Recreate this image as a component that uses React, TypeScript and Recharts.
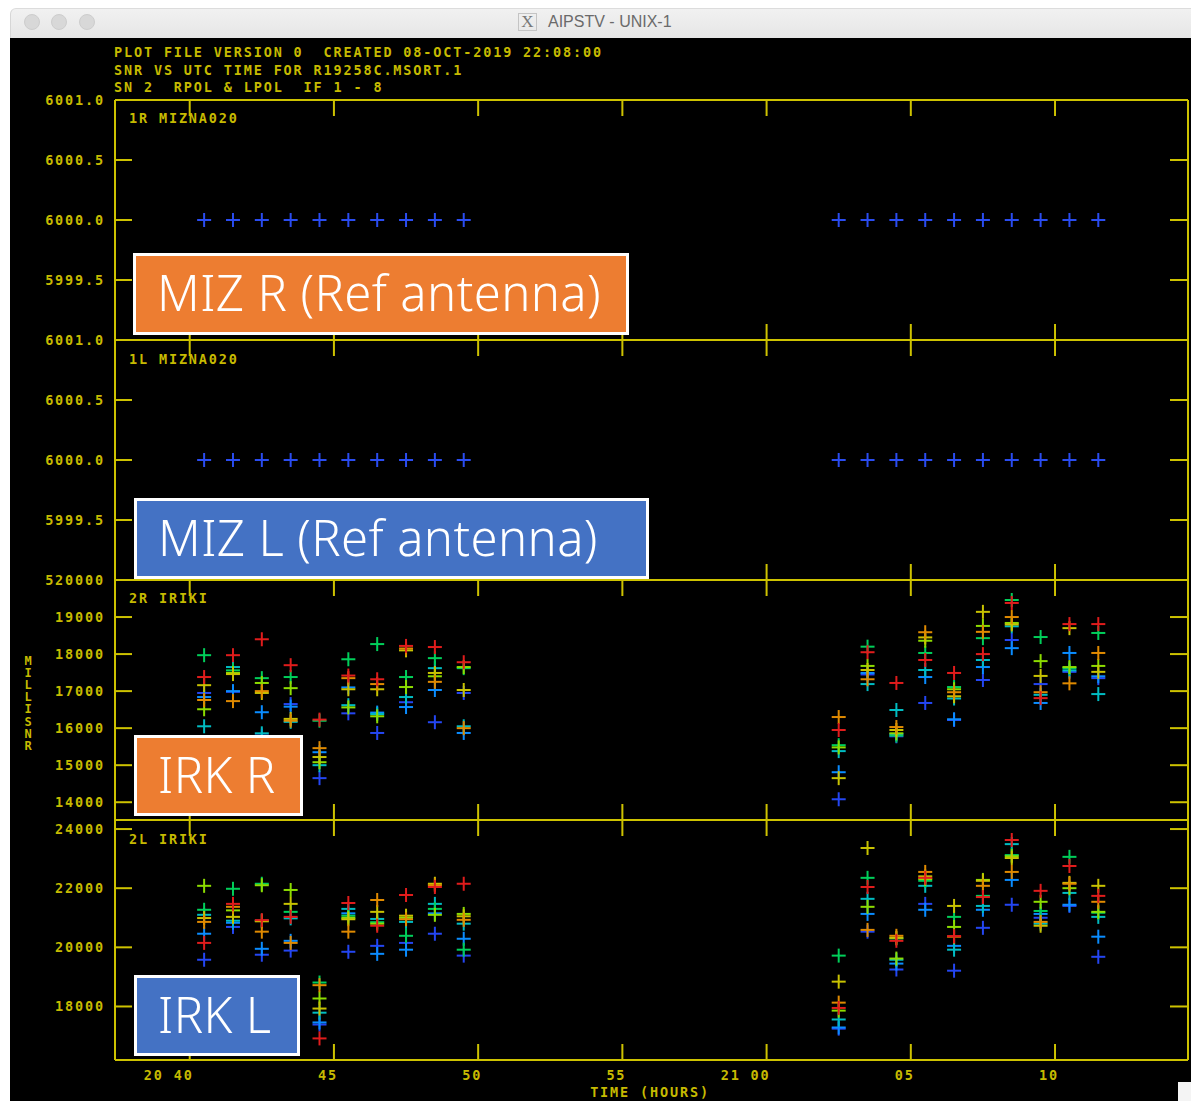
import { Scatter, ScatterChart, XAxis, YAxis } from 'recharts'

const YELLOW = '#cdc200'
const TEXT_YELLOW = '#c6ba00'
const MONO = '"DejaVu Sans Mono", monospace'

// scan times, minutes after 20:00 UTC
const scanTimes = [
  40.5, 41.5, 42.5, 43.5, 44.5, 45.5, 46.5, 47.5, 48.5, 49.5,
  62.5, 63.5, 64.5, 65.5, 66.5, 67.5, 68.5, 69.5, 70.5, 71.5,
]
const timeTicks = [40, 45, 50, 55, 60, 65, 70]
const timeLabels = ['20 40', '45', '50', '55', '21 00', '05', '10']
const timeDomain = [37.41, 74.61]

// IF 1..8 colours (blue -> red)
const ifColors = ['#2446f2', '#0a8cff', '#00bcc2', '#00cf5a', '#8cdc00', '#c8c200', '#e08a00', '#e01c1c']
const refColor = '#2a4cf0'

// MIZNA020 (reference antenna) - flat 6000
const mizR = [6000, 6000, 6000, 6000, 6000, 6000, 6000, 6000, 6000, 6000, 6000, 6000, 6000, 6000, 6000, 6000, 6000, 6000, 6000, 6000]
const mizL = [6000, 6000, 6000, 6000, 6000, 6000, 6000, 6000, 6000, 6000, 6000, 6000, 6000, 6000, 6000, 6000, 6000, 6000, 6000, 6000]
const mizTicks = [5999.5, 6000, 6000.5, 6001]
const mizTickLabels = ['5999.5', '6000.0', '6000.5', '6001.0']

// IRIKI RPOL, one array per IF
const irkR1 = [16950, 16980, 15800, 16650, 14650, 16400, 15870, 16700, 16160, 16950, 14080, 17450, 15780, 16680, 16220, 17300, 18380, 17190, 17520, 17350]
const irkR2 = [16840, 17000, 16430, 16580, 15350, 17100, 16420, 16570, 17030, 15870, 14810, 17490, 15840, 17380, 16240, 17650, 18160, 16680, 18030, 17400]
const irkR3 = [16050, 17650, 15860, 16170, 15000, 16620, 16380, 16840, 17620, 16050, 15380, 17190, 16490, 17570, 16800, 17840, 18750, 16900, 17560, 16920]
const irkR4 = [17970, 17560, 17350, 17380, 16200, 17860, 18270, 17380, 17890, 17620, 15540, 18200, 15800, 18030, 17110, 18430, 19460, 18460, 17620, 18570]
const irkR5 = [16510, 17490, 17220, 17080, 15080, 16560, 16320, 17110, 17400, 17650, 15480, 17680, 15860, 18360, 17050, 18760, 18840, 17810, 17650, 17680]
const irkR6 = [17160, 17460, 16950, 16250, 15220, 17050, 17050, 18100, 17490, 17030, 14650, 17570, 15950, 18450, 16860, 19140, 18800, 17410, 18700, 17520]
const irkR7 = [16760, 16730, 17000, 16200, 15460, 17350, 17190, 18150, 17250, 16000, 16300, 17320, 16030, 18590, 16970, 18600, 19000, 16970, 17210, 18030]
const irkR8 = [17380, 17970, 18400, 17700, 16230, 17420, 17320, 18220, 18190, 17780, 15950, 18050, 17220, 17840, 17490, 18000, 19380, 16810, 18810, 18810]
const irkRTicks = [14000, 15000, 16000, 17000, 18000, 19000, 20000]
const irkRTickLabels = ['14000', '15000', '16000', '17000', '18000', '19000', '520000']

// IRIKI LPOL, one array per IF
const irkL1 = [19580, 20690, 19750, 19890, 17390, 19850, 20050, 20150, 20460, 19720, 17250, 20530, 19250, 21470, 19210, 20660, 21440, 21000, 21400, 19680]
const irkL2 = [20460, 20830, 19950, 20220, 17460, 21150, 19780, 19920, 21150, 20290, 17290, 21130, 19450, 21270, 20050, 21270, 22280, 21130, 21440, 20360]
const irkL3 = [21100, 20900, 20900, 20980, 17790, 21300, 20960, 20860, 21470, 20800, 17560, 21640, 19580, 22080, 19920, 21400, 23490, 20800, 21840, 21030]
const irkL4 = [21270, 21980, 22150, 21200, 18810, 21070, 20850, 20390, 21300, 19920, 19720, 22350, 20300, 22250, 21030, 21740, 23120, 21230, 23060, 21170]
const irkL5 = [22080, 21250, 22100, 21940, 18270, 21000, 20800, 21000, 21100, 21130, 17860, 21370, 19620, 22310, 20690, 22280, 23080, 21540, 22000, 21200]
const irkL6 = [20990, 21030, 20880, 21470, 17930, 20950, 21200, 21070, 22150, 21050, 18840, 23360, 20320, 22400, 21400, 22250, 23020, 20730, 22180, 22080]
const irkL7 = [20860, 21370, 20530, 20150, 18720, 20530, 21600, 20950, 22100, 20930, 18130, 20590, 20390, 22550, 20360, 22080, 22550, 20860, 22150, 21540]
const irkL8 = [20150, 21470, 20920, 21030, 16920, 21500, 20730, 21770, 22040, 22150, 17950, 22040, 20220, 22350, 20380, 21700, 23630, 21910, 22750, 21740]
const irkLTicks = [18000, 20000, 22000, 24000]
const irkLTickLabels = ['18000', '20000', '22000', '24000']

const headerLines = [
  'PLOT FILE VERSION 0  CREATED 08-OCT-2019 22:08:00',
  'SNR VS UTC TIME FOR R19258C.MSORT.1',
  'SN 2  RPOL & LPOL  IF 1 - 8',
]

const PLOT_LEFT = 115
const PLOT_RIGHT = 1188
const PANEL_H = 240
const CHART_W = 1191

const FONT_SIZE = 13.5
const LETTER_SP = 1.85

const monoText = {
  fontFamily: MONO,
  fontWeight: 700,
  fontSize: FONT_SIZE,
  letterSpacing: LETTER_SP,
  fill: TEXT_YELLOW,
}

function crossShape(color: string) {
  return (props: any) => {
    const { cx, cy } = props
    if (cx == null || cy == null) return <g />
    return (
      <g stroke={color} strokeWidth={2}>
        <line x1={cx - 7} x2={cx + 7} y1={cy} y2={cy} />
        <line x1={cx} x2={cx} y1={cy - 7} y2={cy + 7} />
      </g>
    )
  }
}

function Mono({ x, y, text }: { x: number; y: number; text: string }) {
  return (
    <div
      style={{
        position: 'absolute',
        left: x,
        top: y - 8,
        lineHeight: '16px',
        fontFamily: MONO,
        fontWeight: 700,
        fontSize: FONT_SIZE,
        letterSpacing: LETTER_SP,
        color: TEXT_YELLOW,
        whiteSpace: 'pre',
      }}
    >
      {text}
    </div>
  )
}

interface PanelProps {
  top: number
  domain: number[]
  ticks: number[]
  tickLabels: string[]
  series: number[][]
  colors: string[]
  showTime?: boolean
}

function Panel({ top, domain, ticks, tickLabels, series, colors, showTime }: PanelProps) {
  const data = series.map((vals) => scanTimes.map((t, i) => ({ t, v: vals[i] })))
  const bottom = showTime ? 40 : 20

  const leftTick = (p: any) => {
    const idx = ticks.indexOf(p.payload.value)
    return (
      <g>
        <line x1={p.x} x2={p.x + 17} y1={p.y} y2={p.y} stroke={YELLOW} strokeWidth={2} />
        <text x={p.x - 10} y={p.y + 5} textAnchor="end" {...monoText}>
          {tickLabels[idx]}
        </text>
      </g>
    )
  }
  const rightTick = (p: any) => (
    <line x1={p.x - 18} x2={p.x} y1={p.y} y2={p.y} stroke={YELLOW} strokeWidth={2} />
  )
  const topTick = (p: any) => (
    <line x1={p.x} x2={p.x} y1={p.y} y2={p.y + 16} stroke={YELLOW} strokeWidth={2} />
  )
  const bottomTick = (p: any) => {
    const idx = timeTicks.indexOf(p.payload.value)
    return (
      <g>
        <line x1={p.x} x2={p.x} y1={p.y} y2={p.y - 16} stroke={YELLOW} strokeWidth={2} />
        {showTime ? (
          <text x={p.x + 4} y={p.y + 20} textAnchor="end" {...monoText}>
            {timeLabels[idx]}
          </text>
        ) : null}
      </g>
    )
  }

  const axisLine = { stroke: YELLOW, strokeWidth: 2 }

  return (
    <div style={{ position: 'absolute', left: 0, top: top - 20 }}>
      <ScatterChart
        width={CHART_W}
        height={20 + PANEL_H + bottom}
        margin={{ top: 19, right: CHART_W - PLOT_RIGHT - 1, bottom: bottom - 1, left: PLOT_LEFT - 1 }}
      >
        <XAxis
          xAxisId="b"
          dataKey="t"
          type="number"
          domain={timeDomain}
          ticks={timeTicks}
          interval={0}
          allowDataOverflow
          height={1}
          tickSize={0}
          tickMargin={0}
          tickLine={false}
          axisLine={axisLine}
          tick={bottomTick}
        />
        <XAxis
          xAxisId="t"
          orientation="top"
          dataKey="t"
          type="number"
          domain={timeDomain}
          ticks={timeTicks}
          interval={0}
          allowDataOverflow
          height={1}
          tickSize={0}
          tickMargin={0}
          tickLine={false}
          axisLine={axisLine}
          tick={topTick}
        />
        <YAxis
          yAxisId="l"
          dataKey="v"
          type="number"
          domain={domain}
          ticks={ticks}
          interval={0}
          allowDataOverflow
          width={1}
          tickSize={0}
          tickMargin={0}
          tickLine={false}
          axisLine={axisLine}
          tick={leftTick}
        />
        <YAxis
          yAxisId="r"
          orientation="right"
          dataKey="v"
          type="number"
          domain={domain}
          ticks={ticks}
          interval={0}
          allowDataOverflow
          width={1}
          tickSize={0}
          tickMargin={0}
          tickLine={false}
          axisLine={axisLine}
          tick={rightTick}
        />
        {data.map((d, k) => (
          <Scatter
            key={k}
            xAxisId="b"
            yAxisId="l"
            data={d}
            shape={crossShape(colors[k])}
            isAnimationActive={false}
          />
        ))}
        <Scatter xAxisId="t" yAxisId="r" data={data[0]} shape={() => <g />} isAnimationActive={false} />
      </ScatterChart>
    </div>
  )
}

function LabelBox({ x, y, w, h, color, text }: { x: number; y: number; w: number; h: number; color: string; text: string }) {
  return (
    <div
      style={{
        position: 'absolute',
        left: x,
        top: y,
        width: w,
        height: h,
        boxSizing: 'border-box',
        border: '3px solid #ffffff',
        background: color,
        color: '#ffffff',
        fontFamily: '"Noto Sans", sans-serif',
        fontWeight: 300,
        fontSize: 49,
        letterSpacing: 0.4,
        display: 'flex',
        alignItems: 'center',
        paddingLeft: 21,
        paddingBottom: 4,
        whiteSpace: 'pre',
      }}
    >
      {text}
    </div>
  )
}

export default function App() {
  return (
    <div style={{ position: 'absolute', left: 0, top: 0, width: 1191, height: 1101, background: '#ffffff', overflow: 'hidden' }}>
      {/* window title bar */}
      <div
        style={{
          position: 'absolute',
          left: 10,
          top: 8,
          width: 1200,
          height: 30,
          borderTopLeftRadius: 6,
          background: 'linear-gradient(#f1f1f1, #e6e6e6)',
          borderTop: '1px solid #dcdcdc',
          borderLeft: '1px solid #d6d6d6',
          boxSizing: 'border-box',
        }}
      />
      {[32, 59, 87].map((cx) => (
        <div
          key={cx}
          style={{
            position: 'absolute',
            left: cx - 8,
            top: 14,
            width: 16,
            height: 16,
            borderRadius: 8,
            background: '#d8d8d8',
            border: '1px solid #cdcdcd',
            boxSizing: 'border-box',
          }}
        />
      ))}
      <div
        style={{
          position: 'absolute',
          left: 518,
          top: 13,
          width: 19,
          height: 18,
          border: '1px solid #c4c4c4',
          boxSizing: 'border-box',
          fontFamily: '"Liberation Serif", serif',
          fontSize: 17,
          lineHeight: '16px',
          textAlign: 'center',
          color: '#777777',
        }}
      >
        X
      </div>
      <div
        style={{
          position: 'absolute',
          left: 548,
          top: 12,
          fontFamily: '"Liberation Sans", sans-serif',
          fontSize: 16,
          lineHeight: '20px',
          color: '#6a6a6a',
          whiteSpace: 'pre',
        }}
      >
        AIPSTV - UNIX-1
      </div>

      {/* AIPS TV area */}
      <div style={{ position: 'absolute', left: 10, top: 38, width: 1181, height: 1063, background: '#000000' }} />

      {headerLines.map((line, i) => (
        <Mono key={line} x={114} y={52 + i * 17.5} text={line} />
      ))}

      <Panel top={100} domain={[5999, 6001]} ticks={mizTicks} tickLabels={mizTickLabels} series={[mizR]} colors={[refColor]} />
      <Panel top={340} domain={[5999, 6001]} ticks={mizTicks} tickLabels={mizTickLabels} series={[mizL]} colors={[refColor]} />
      <Panel
        top={580}
        domain={[13520, 20000]}
        ticks={irkRTicks}
        tickLabels={irkRTickLabels}
        series={[irkR1, irkR2, irkR3, irkR4, irkR5, irkR6, irkR7, irkR8]}
        colors={ifColors}
      />
      <Panel
        top={820}
        domain={[16190, 24306]}
        ticks={irkLTicks}
        tickLabels={irkLTickLabels}
        series={[irkL1, irkL2, irkL3, irkL4, irkL5, irkL6, irkL7, irkL8]}
        colors={ifColors}
        showTime
      />

      <Mono x={129} y={118} text="1R MIZNA020" />
      <Mono x={129} y={359} text="1L MIZNA020" />
      <Mono x={129} y={598} text="2R IRIKI" />
      <Mono x={129} y={839} text="2L IRIKI" />
      <div
        style={{
          position: 'absolute',
          left: 21,
          top: 654,
          fontFamily: MONO,
          fontWeight: 700,
          fontSize: 12,
          letterSpacing: -1.9,
          writingMode: 'vertical-lr',
          textOrientation: 'upright',
          color: TEXT_YELLOW,
          whiteSpace: 'pre',
        }}
      >
        MILLISNR
      </div>
      <div
        style={{
          position: 'absolute',
          left: 0,
          width: 1300,
          top: 1084,
          textAlign: 'center',
          fontFamily: MONO,
          fontWeight: 700,
          fontSize: FONT_SIZE,
          letterSpacing: LETTER_SP,
          lineHeight: '16px',
          color: TEXT_YELLOW,
          whiteSpace: 'pre',
        }}
      >
        TIME (HOURS)
      </div>

      <LabelBox x={133} y={253} w={496} h={82} color="#ED7D31" text="MIZ R (Ref antenna)" />
      <LabelBox x={134} y={498} w={515} h={81} color="#4472C4" text="MIZ L (Ref antenna)" />
      <LabelBox x={134} y={735} w={169} h={81} color="#ED7D31" text="IRK R" />
      <LabelBox x={134} y={975} w={166} h={81} color="#4472C4" text="IRK L" />

      <div style={{ position: 'absolute', left: 1178, top: 1082, width: 13, height: 19, background: '#f4f4f4' }} />
    </div>
  )
}
